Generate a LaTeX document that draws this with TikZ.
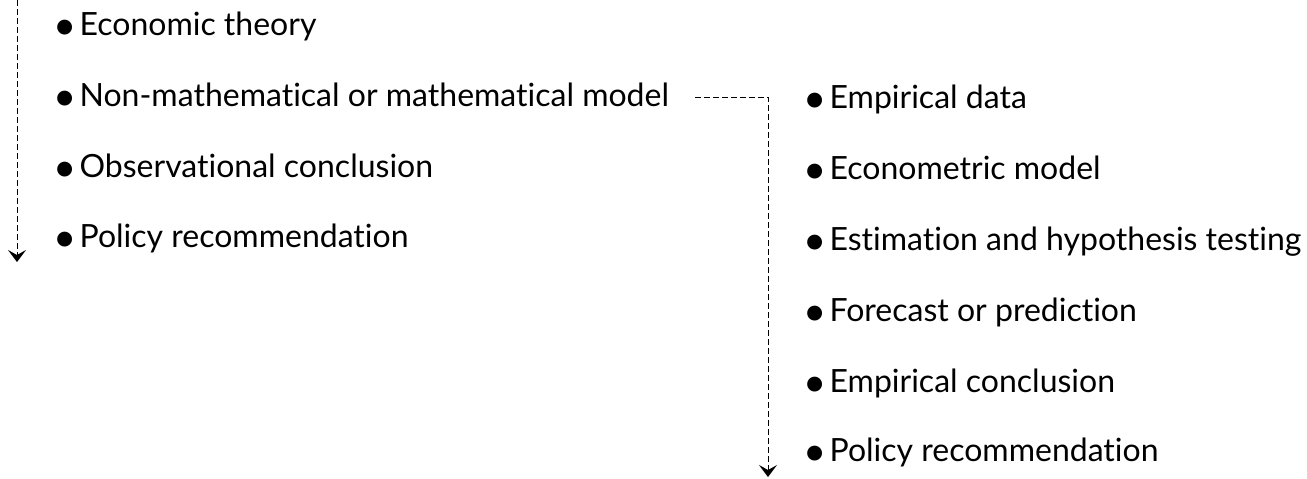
\documentclass[tikz,border=0pt]{standalone}
\usepackage{fontspec}
\setmainfont{Lato}[Ligatures=NoCommon]
\usetikzlibrary{arrows.meta}
\newcommand\itembullet{{\fontsize{20}{20}\selectfont\raisebox{-2pt}{\textbullet}}\hspace{1.5pt}}
\begin{document}
\begin{tikzpicture} [
  x=0.5pt, y=-0.5pt,
  item/.style= {anchor=base west,inner sep=0,font=\fontsize{16}{19}\selectfont},
  flow/.style= {dashed,dash pattern=on 3pt off 1.5pt,line width=0.5pt,-{Stealth[length=6pt,width=9pt,inset=2.5pt]}},
]
\useasboundingbox (0,0) rectangle (1307,478);
% theoretical approach
\node (L1) [item] at (53,35) {\itembullet Economic theory};
\node (L2) [item] at (53,106) {\itembullet Non-mathematical or mathematical model};
\node (L3) [item] at (53,177) {\itembullet Observational conclusion};
\node (L4) [item] at (53,247) {\itembullet Policy recommendation};
% econometric approach
\node (R1) [item] at (803,108) {\itembullet Empirical data};
\node (R2) [item] at (803,179) {\itembullet Econometric model};
\node (R3) [item] at (803,250) {\itembullet Estimation and hypothesis testing};
\node (R4) [item] at (803,321) {\itembullet Forecast or prediction};
\node (R5) [item] at (803,392) {\itembullet Empirical conclusion};
\node (R6) [item] at (803,461) {\itembullet Policy recommendation};

\coordinate (Ltop) at (17,0);
\coordinate (Lend) at (17,262);
\coordinate (bend) at (768,97);
\coordinate (Rend) at (768,477);
\draw [flow] (Ltop) -- (Lend);
\draw [flow,shorten <=13pt] (L2.east |- bend) -- (bend) -- (Rend);

\end{tikzpicture}
\end{document}
